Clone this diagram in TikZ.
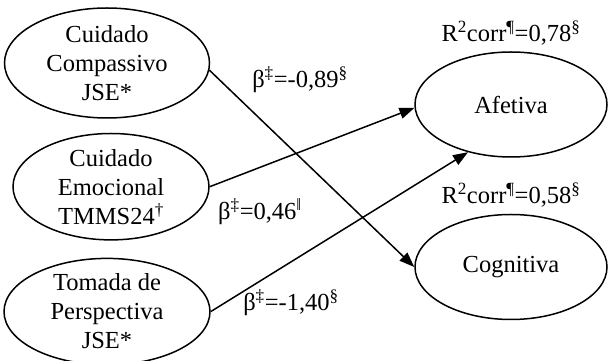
\documentclass[tikz,border=0pt]{standalone}
\usepackage{fontspec}
\setmainfont{Liberation Serif}
\usetikzlibrary{positioning, shapes.geometric, arrows.meta}
\tikzset{
  effect/.style={-{Triangle[length=15, width=11]}, draw, line width=1.5},
  construct/.style={ellipse, draw, line width=1.5, inner sep=0, align=center},
  coef/.style={inner sep=0},
  >=Latex, node distance=1, every node/.style={font=\fontsize{24.5}{29}\selectfont}
}

\begin{document}
\begin{tikzpicture}[x=1pt, y=1pt]
    \useasboundingbox (0,0) rectangle (608,361);
    \node[construct, minimum width=205, minimum height=110] (comp) at (107,298) {Cuidado\\Compassivo\\JSE*};
    \node[construct, minimum width=196, minimum height=106, below=14pt of comp, xshift=4pt] (emoc) {Cuidado\\Emocional\\TMMS24\textsuperscript{†}};
    \node[construct, minimum width=206, minimum height=105, below=17pt of emoc, xshift=-4pt] (persp) {Tomada de\\Perspectiva\\JSE*};
    \node[construct, minimum width=192, minimum height=105] (afet) at (511,256.5) {Afetiva};
    \node[construct, minimum width=192, minimum height=105, below=56pt of afet] (cogn) {Cognitiva};
    \node[coef, above=6pt of afet] (r2afet) {R\textsuperscript{2}corr\textsuperscript{¶}=0,78\textsuperscript{§}};
    \node[coef, above=6pt of cogn] (r2cogn) {R\textsuperscript{2}corr\textsuperscript{¶}=0,58\textsuperscript{§}};
    \draw[effect] (comp.-4) -- (cogn.west);
    \draw[effect] (emoc.east) -- (afet.182);
    \draw[effect] (persp.east) -- (afet.228);
    \node[coef] (bcomp) at (300,281) {β\textsuperscript{‡}=-0,89\textsuperscript{§}};
    \node[coef] (bemoc) at (260,149) {β\textsuperscript{‡}=0,46\textsuperscript{‖}};
    \node[coef] (bpersp) at (291,58) {β\textsuperscript{‡}=-1,40\textsuperscript{§}};
\end{tikzpicture}
\end{document}
